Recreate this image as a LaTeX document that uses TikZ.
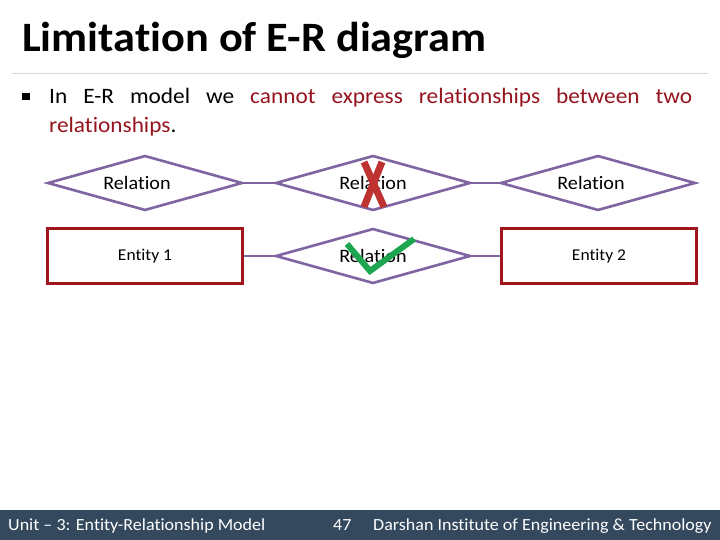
\documentclass[tikz,border=0pt]{standalone}
\usepackage{fontspec}
\setmainfont{Carlito}[Ligatures=NoCommon]
\newfontfamily\widefont{Carlito}[Ligatures=NoCommon,FakeStretch=1.06]
\usetikzlibrary{shapes.geometric}
\definecolor{erline}{RGB}{128,100,162}
\definecolor{entred}{RGB}{160,20,30}
\definecolor{txtred}{RGB}{150,20,30}
\definecolor{footbg}{RGB}{52,73,94}
\definecolor{xred}{RGB}{190,50,50}
\definecolor{ckgreen}{RGB}{30,165,80}
\begin{document}
\begin{tikzpicture}[x=1pt,y=-1pt,
  rel/.style={diamond,draw=erline,line width=2.6pt,minimum width=195pt,minimum height=55pt,aspect=3.5,inner sep=0pt,font=\widefont\fontsize{19}{21}\selectfont},
  ent/.style={rectangle,draw=entred,line width=2.6pt,minimum width=195pt,minimum height=55pt,inner sep=0pt,font=\widefont\fontsize{16.5}{18}\selectfont},
  conn/.style={draw=erline,line width=2.6pt},
  foot/.style={text=white,font=\widefont\fontsize{17}{19}\selectfont,anchor=base west,inner sep=0pt}]
\useasboundingbox (0,0) rectangle (720,540);
\fill[white] (0,0) rectangle (720,540);
% title
\node[anchor=base west,inner sep=0pt,font=\widefont\bfseries\fontsize{41.8}{46}\selectfont] (title) at (22,52) {Limitation of E-R diagram};
\draw[line width=0.8pt,black!15] (12,73) -- (708,73);
% bullet
\fill (22,93) rectangle (30,100);
\node[anchor=base west,inner sep=0pt,text width=643pt,align=justify,font=\widefont\fontsize{22}{29}\selectfont] (bul) at (49,104) {In E-R model we \textcolor{txtred}{cannot express relationships between two \mbox{relationships}}.};
% diagram
\node[rel] (r1) at (145,183) {Relation\hspace*{16pt}};
\node[rel] (r2) at (373,183) {Relation};
\node[rel] (r3) at (598,183) {Relation\hspace*{14pt}};
\node[ent] (e1) at (145,256) {Entity 1};
\node[rel] (r4) at (373,256) {Relation};
\node[ent] (e2) at (599,256) {Entity 2};
\draw[conn] (r1.east) -- (r2.west);
\draw[conn] (r2.east) -- (r3.west);
\draw[conn] (e1.east) -- (r4.west);
\draw[conn] (r4.east) -- (e2.west);
% marks
\draw[xred,line width=7pt] (364,162) -- (384,207);
\draw[xred,line width=7pt] (382,162) -- (364,207);
\draw[ckgreen,line width=6pt] (347,244) -- (370,271) -- (414,239);
% footer
\fill[footbg] (0,510) rectangle (720,540);
\node[foot] (f1) at (8,530.5) {Unit – 3: Entity-Relationship Model};
\node[foot] (f2) at (333,530.5) {47};
\node[foot] (f3) at (373,530.5) {Darshan Institute of Engineering \& Technology};
\end{tikzpicture}
\end{document}
